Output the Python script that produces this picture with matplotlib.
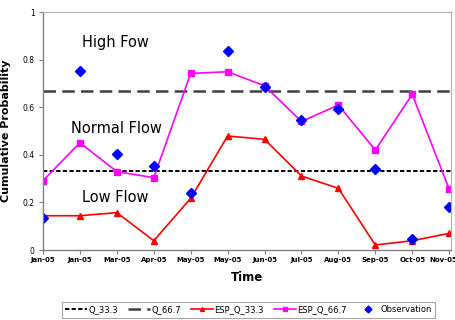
import matplotlib
matplotlib.use("Agg")
import matplotlib.pyplot as plt
from matplotlib.transforms import ScaledTranslation

months = ["Jan-05", "Jan-05", "Mar-05", "Apr-05", "May-05", "May-05",
          "Jun-05", "Jul-05", "Aug-05", "Sep-05", "Oct-05", "Nov-05"]
q_33 = 0.333
q_67 = 0.667
esp_q33 = [0.144, 0.144, 0.157, 0.039, 0.217, 0.479, 0.465, 0.311, 0.259, 0.021, 0.039, 0.070]
esp_q67 = [0.291, 0.451, 0.329, 0.304, 0.742, 0.749, 0.690, 0.540, 0.609, 0.420, 0.654, 0.256]
observation = [0.133, 0.752, 0.405, 0.353, 0.241, 0.836, 0.684, 0.545, 0.594, 0.340, 0.046, 0.182]

x = list(range(len(months)))

fig = plt.figure(figsize=(4.56, 3.2), dpi=100)
ax = fig.add_axes([43/456, 70/320, 408/456, 238/320])

ax.plot([x[0], x[-1] + 0.05], [q_33, q_33], color="black", linestyle=(0, (2.2, 1.2)), lw=1.4, label="Q_33.3")
ax.plot([x[0], x[-1] + 0.05], [q_67, q_67], color="#404040", linestyle=(0, (5, 2.5)), lw=1.8, label="Q_66.7")
ax.plot(x, esp_q33, color="red", marker="^", markersize=4, lw=1.2, label="ESP_Q_33.3")
ax.plot(x, esp_q67, color="#ff00ff", marker="s", markersize=4, lw=1.2, label="ESP_Q_66.7")
ax.plot(x, observation, color="blue", marker="D", markersize=5, lw=0, label="Observation")

ax.set_xlim(0, 11.05)
ax.set_ylim(0, 1)
ax.set_xticks(x)
ax.set_xticklabels(months, fontsize=5.0, fontweight="bold")
ax.set_yticks([0, 0.2, 0.4, 0.6, 0.8, 1.0])
ax.set_yticklabels(["0", "0.2", "0.4", "0.6", "0.8", "1"], fontsize=5.5)
ax.tick_params(axis="both", length=3, width=0.8, color="#808080", pad=3)
ax.tick_params(axis="x", pad=2)

# nudge last tick label so it stays inside the figure
last = ax.get_xticklabels()[-1]
last.set_transform(last.get_transform() + ScaledTranslation(-6/100, 0, fig.dpi_scale_trans))

for s in ["top", "right"]:
    ax.spines[s].set_color("#b0b0b0")
for s in ["left", "bottom"]:
    ax.spines[s].set_color("#808080")
    ax.spines[s].set_linewidth(1.0)

ax.set_ylabel("Cumulative Probability", fontsize=8, fontweight="bold", labelpad=8)
ax.set_xlabel("Time", fontsize=8.5, fontweight="bold", labelpad=6)

ax.text(1.95, 0.87, "High Fow", fontsize=10.5, ha="center", va="center")
ax.text(2.0, 0.51, "Normal Flow", fontsize=10.5, ha="center", va="center")
ax.text(1.95, 0.22, "Low Flow", fontsize=10.5, ha="center", va="center")

leg = fig.legend(loc="center", bbox_to_anchor=(0.545, 0.032), ncol=5, fontsize=6,
                 frameon=True, fancybox=False, edgecolor="#909090",
                 handlelength=2.6, handletextpad=0.2, columnspacing=1.2,
                 borderpad=0.4, markerscale=0.7)
leg.get_frame().set_linewidth(0.8)

fig.savefig("out.png", dpi=100)
